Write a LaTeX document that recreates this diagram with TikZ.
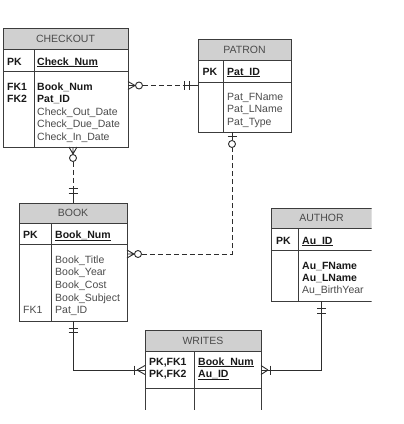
\documentclass[tikz,border=0pt]{standalone}
\usepackage{fontspec}
\setmainfont{Liberation Sans}
\usetikzlibrary{calc}
\definecolor{hdrfill}{RGB}{208,208,208}
\definecolor{bordercol}{RGB}{60,60,60}
\definecolor{regtext}{RGB}{75,75,75}
\definecolor{boldtext}{RGB}{25,25,25}
\definecolor{linecol}{RGB}{45,45,45}
\newcommand\keyul[1]{\setbox0\hbox{#1}\rlap{\rule[-1.9pt]{\wd0}{0.6pt}}\box0}
\tikzset{
  tbl/.style={draw=bordercol, line width=1pt, inner sep=0pt, outer sep=0pt, anchor=north west, rectangle},
  sepline/.style={draw=bordercol, line width=1pt},
  hdr/.style={font=\fontsize{10.5}{12.5}\selectfont, text=regtext, inner sep=0pt},
  att/.style={anchor=base west, inner sep=0pt, font=\fontsize{10.5}{12.5}\selectfont, text=regtext},
  katt/.style={anchor=base west, inner sep=0pt, font=\fontsize{10.5}{12.5}\selectfont\bfseries, text=boldtext},
  conn/.style={draw=linecol, line width=0.9pt},
  dconn/.style={conn, dash pattern=on 5pt off 3pt},
  ring/.style={circle, draw=linecol, fill=white, line width=0.9pt, minimum size=7pt, inner sep=0pt},
}
\begin{document}
\begin{tikzpicture}[x=1pt,y=-1pt]
\useasboundingbox (0,0) rectangle (404,424);
\fill[white] (0,0) rectangle (404,424);

% ---------- CHECKOUT ----------
\fill[hdrfill] (3,28) rectangle (128,49);
\node[tbl, minimum width=125pt, minimum height=119pt] (checkout) at (3,28) {};
\draw[sepline] (3,49) -- (128,49) (3,71) -- (128,71) (34,49) -- (34,147);
\node[hdr] (checkoutH) at (65.5,38.5) {CHECKOUT};
\node[katt] (checkoutPK) at (7,65) {PK};
\node[katt] (checkoutA0) at (37,65) {\keyul{Check\_Num}};
\node[katt] (checkoutF1) at (7,90) {FK1};
\node[katt] (checkoutF2) at (7,102.5) {FK2};
\node[katt] (checkoutA1) at (37,90) {Book\_Num};
\node[katt] (checkoutA2) at (37,102.5) {Pat\_ID};
\node[att] (checkoutA3) at (37,115) {Check\_Out\_Date};
\node[att] (checkoutA4) at (37,127.5) {Check\_Due\_Date};
\node[att] (checkoutA5) at (37,140) {Check\_In\_Date};

% ---------- PATRON ----------
\fill[hdrfill] (198,39) rectangle (291,60);
\node[tbl, minimum width=93pt, minimum height=93pt] (patron) at (198,39) {};
\draw[sepline] (198,60) -- (291,60) (198,82) -- (291,82) (223,60) -- (223,132);
\node[hdr] (patronH) at (244.5,49.5) {PATRON};
\node[katt] (patronPK) at (202.5,75) {PK};
\node[katt] (patronA0) at (227,75) {\keyul{Pat\_ID}};
\node[att] (patronA1) at (227,100) {Pat\_FName};
\node[att] (patronA2) at (227,112.5) {Pat\_LName};
\node[att] (patronA3) at (227,125) {Pat\_Type};

% ---------- BOOK ----------
\fill[hdrfill] (19,203) rectangle (127,223.5);
\node[tbl, minimum width=108pt, minimum height=118pt] (book) at (19,203) {};
\draw[sepline] (19,223.5) -- (127,223.5) (19,244.5) -- (127,244.5) (51,223.5) -- (51,321);
\node[hdr] (bookH) at (73,213) {BOOK};
\node[katt] (bookPK) at (23,238.5) {PK};
\node[katt] (bookA0) at (55,238.5) {\keyul{Book\_Num}};
\node[att] (bookA1) at (55,263.3) {Book\_Title};
\node[att] (bookA2) at (55,275.9) {Book\_Year};
\node[att] (bookA3) at (55,288.5) {Book\_Cost};
\node[att] (bookA4) at (55,301.1) {Book\_Subject};
\node[att] (bookA5) at (55,313.7) {Pat\_ID};
\node[att] (bookF1) at (23,313.7) {FK1};

% ---------- AUTHOR (cut at the right) ----------
\begin{scope}
\clip (0,0) rectangle (371.5,424);
\fill[hdrfill] (271,208) rectangle (372,228.5);
\node[tbl, minimum width=101pt, minimum height=93pt] (author) at (271,208) {};
\draw[sepline] (271,228.5) -- (372,228.5) (271,250.5) -- (372,250.5) (298,228.5) -- (298,301);
\end{scope}
\node[hdr] (authorH) at (321.5,218) {AUTHOR};
\node[katt] (authorPK) at (276,244) {PK};
\node[katt] (authorA0) at (302,244) {\keyul{Au\_ID}};
\node[katt] (authorA1) at (302,269) {Au\_FName};
\node[katt] (authorA2) at (302,281.7) {Au\_LName};
\node[att] (authorA3) at (302,293.8) {Au\_BirthYear};

% ---------- WRITES (cut at the bottom) ----------
\begin{scope}
\clip (0,0) rectangle (404,409);
\fill[hdrfill] (145,330) rectangle (261,351);
\node[tbl, minimum width=116pt, minimum height=80pt] (writes) at (145,330) {};
\draw[sepline] (145,351) -- (261,351) (145,388.3) -- (261,388.3) (194,351) -- (194,411);
\end{scope}
\node[hdr] (writesH) at (203,340.5) {WRITES};
\node[katt] (writesPK1) at (149,365) {PK,FK1};
\node[katt] (writesPK2) at (149,377.5) {PK,FK2};
\node[katt] (writesA1) at (198,365) {\keyul{Book\_Num}};
\node[katt] (writesA2) at (198,377.5) {\keyul{Au\_ID}};

% ---------- 1: CHECKOUT -- PATRON ----------
\coordinate (e1a) at (checkout.east |- patron.west);
\coordinate (e1b) at (patron.west);
\draw[conn] ($(e1a)+(7,0)$) -- ($(e1a)+(0,-4)$) ($(e1a)+(7,0)$) -- (e1a) ($(e1a)+(7,0)$) -- ($(e1a)+(0,4)$);
\node[ring] (r1) at ($(e1a)+(11,0)$) {};
\draw[dconn] (r1.east) -- ($(e1b)+(-14,0)$);
\draw[conn] ($(e1b)+(-14,0)$) -- (e1b);
\draw[conn] ($(e1b)+(-13.5,-4.5)$) -- ++(0,9) ($(e1b)+(-9,-4.5)$) -- ++(0,9);

% ---------- 2: CHECKOUT -- BOOK ----------
\coordinate (e2a) at (checkout.south -| book.north);
\coordinate (e2b) at (book.north);
\draw[conn] ($(e2a)+(0,7)$) -- ($(e2a)+(-4,0)$) ($(e2a)+(0,7)$) -- (e2a) ($(e2a)+(0,7)$) -- ($(e2a)+(4,0)$);
\node[ring] (r2) at ($(e2a)+(0,11)$) {};
\draw[dconn] (r2.south) -- ($(e2b)+(0,-16)$);
\draw[conn] ($(e2b)+(0,-16)$) -- (e2b);
\draw[conn] ($(e2b)+(-4.5,-14.5)$) -- ++(9,0) ($(e2b)+(-4.5,-10)$) -- ++(9,0);

% ---------- 3: BOOK -- PATRON ----------
\coordinate (e3a) at ([yshift=8pt]book.east);
\coordinate (e3b) at ([xshift=-12.5pt]patron.south);
\draw[conn] ($(e3a)+(7,0)$) -- ($(e3a)+(0,-4)$) ($(e3a)+(7,0)$) -- (e3a) ($(e3a)+(7,0)$) -- ($(e3a)+(0,4)$);
\node[ring] (r3a) at ($(e3a)+(11,0)$) {};
\node[ring] (r3b) at ($(e3b)+(0,12)$) {};
\draw[conn] (e3b) -- (r3b.north);
\draw[conn] ($(e3b)+(-4.5,4)$) -- ++(9,0);
\draw[dconn] (r3a.east) -- (r3a.east -| e3b) -- (r3b.south);

% ---------- 4: BOOK -- WRITES ----------
\coordinate (e4a) at (book.south);
\coordinate (e4b) at (writes.west);
\draw[conn] (e4a) |- (e4b);
\draw[conn] ($(e4a)+(-4.5,7)$) -- ++(9,0) ($(e4a)+(-4.5,11)$) -- ++(9,0);
\draw[conn] ($(e4b)+(-8,0)$) -- ($(e4b)+(0,-4.5)$) ($(e4b)+(-8,0)$) -- ($(e4b)+(0,4.5)$);
\draw[conn] ($(e4b)+(-10.5,-4.5)$) -- ++(0,9);

% ---------- 5: AUTHOR -- WRITES ----------
\coordinate (e5a) at (author.south);
\coordinate (e5b) at (writes.east);
\draw[conn] (e5a) |- (e5b);
\draw[conn] ($(e5a)+(-4.5,7.5)$) -- ++(9,0) ($(e5a)+(-4.5,12)$) -- ++(9,0);
\draw[conn] ($(e5b)+(7,0)$) -- ($(e5b)+(0,-4.5)$) ($(e5b)+(7,0)$) -- ($(e5b)+(0,4.5)$);
\draw[conn] ($(e5b)+(9.5,-4.5)$) -- ++(0,9);
\end{tikzpicture}
\end{document}
